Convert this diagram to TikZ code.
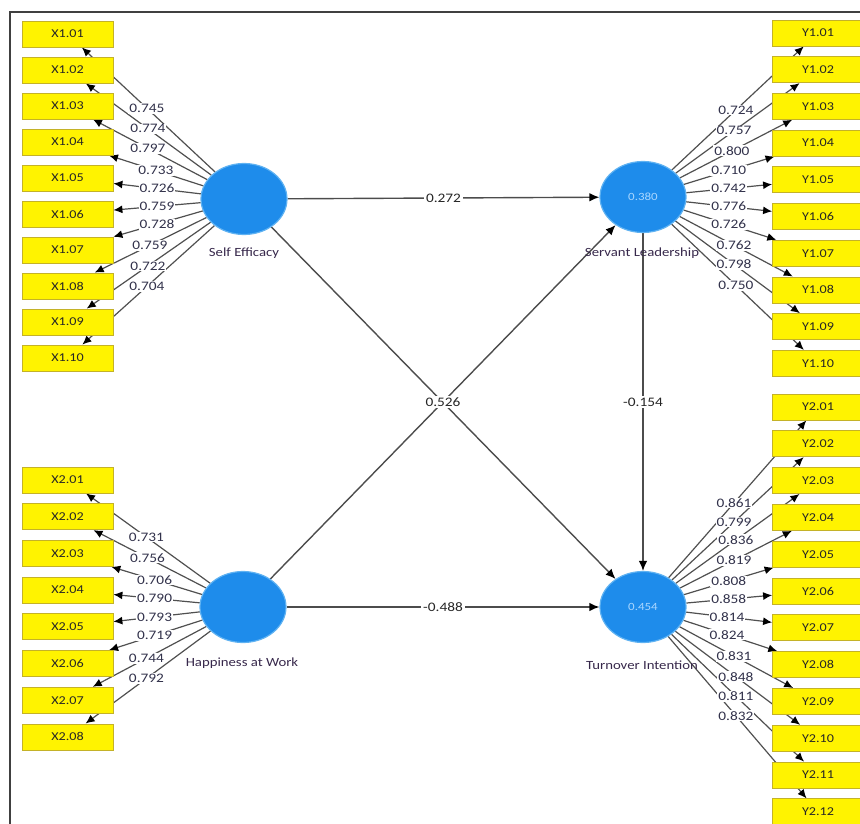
\documentclass[tikz,border=0pt]{standalone}
\usepackage{fontspec}
\setmainfont[FakeStretch=1.18]{Carlito}
\usetikzlibrary{arrows.meta,shapes.geometric,backgrounds}
\definecolor{boxfill}{RGB}{255,243,0}
\definecolor{boxline}{RGB}{196,178,40}
\definecolor{latfill}{RGB}{30,140,235}
\definecolor{latline}{RGB}{95,178,242}
\definecolor{lattxt}{RGB}{170,215,255}
\definecolor{lntxt}{RGB}{50,50,75}
\definecolor{nametxt}{RGB}{55,40,75}
\definecolor{edgecol}{RGB}{80,80,80}
\begin{document}
\begin{tikzpicture}[x=1pt,y=-1pt,
  ind/.style={rectangle,fill=boxfill,draw=boxline,line width=0.8pt,minimum width=91pt,minimum height=26pt,inner sep=0pt,font=\fontsize{12}{14}\selectfont,text=black!85},
  lat/.style={ellipse,fill=latfill,draw=latline,line width=1.2pt,minimum width=86pt,minimum height=71pt,inner sep=0pt,font=\fontsize{11}{13}\selectfont,text=lattxt},
  latname/.style={font=\fontsize{12.5}{14}\selectfont,text=nametxt,inner sep=0pt},
  ldg/.style={draw=edgecol,line width=1.2pt,-{Latex[length=9pt,width=8pt,color=black]}},
  struct/.style={draw=black!70,line width=1.4pt,-{Latex[length=10pt,width=8.5pt,color=black]}},
  lbl/.style={fill=white,inner sep=1pt,font=\fontsize{13}{15}\selectfont,text=lntxt},
  slbl/.style={fill=white,inner sep=2pt,font=\fontsize{13}{15}\selectfont,text=black!85}]
\useasboundingbox (0,0) rectangle (860,824);
\clip (0,0) rectangle (860,824);
\draw[line width=1.5pt,black!75] (10,900) -- (10,12) -- (900,12);

% latent variables
\node[lat] (SE) at (244,199) {};
\node[lat] (SL) at (643,197) {0.380};
\node[lat] (HW) at (243,607) {};
\node[lat] (TI) at (643,607) {0.454};
\node[latname] (SEn) at (244,253) {Self Efficacy};
\node[latname] (SLn) at (642,253) {Servant Leadership};
\node[latname] (HWn) at (242,663) {Happiness at Work};
\node[latname] (TIn) at (642,665) {Turnover Intention};

% indicators
\foreach \i in {1,...,10}
  \node[ind] (x1-\i) at (67.5,{34+(\i-1)*36}) {X1.\ifnum\i<10 0\fi\i};
\foreach \i in {1,...,10}
  \node[ind] (y1-\i) at (818,{33+(\i-1)*36.7}) {Y1.\ifnum\i<10 0\fi\i};
\foreach \i in {1,...,8}
  \node[ind] (x2-\i) at (67.5,{480+(\i-1)*36.7}) {X2.0\i};
\foreach \i in {1,...,12}
  \node[ind] (y2-\i) at (818,{407+(\i-1)*36.8}) {Y2.\ifnum\i<10 0\fi\i};

\begin{scope}[on background layer]
  \foreach \i in {1,...,10} \draw[ldg] (SE) -- (x1-\i);
  \foreach \i in {1,...,10} \draw[ldg] (SL) -- (y1-\i);
  \foreach \i in {1,...,8} \draw[ldg] (HW) -- (x2-\i);
  \foreach \i in {1,...,12} \draw[ldg] (TI) -- (y2-\i);
  \draw[struct] (SE) -- (SL);
  \draw[struct] (SE) -- (TI);
  \draw[struct] (HW) -- (SL);
  \draw[struct] (HW) -- (TI);
  \draw[struct] (SL) -- (TI);
\end{scope}

% loadings
\foreach \i/\l/\p in {1/0.745/0.55,2/0.774/0.544,3/0.797/0.544,4/0.733/0.499,5/0.726/0.493,6/0.759/0.493,7/0.728/0.493,8/0.759/0.533,9/0.722/0.544,10/0.704/0.55}
  \path (SE.center) -- (x1-\i.center) node[lbl,pos=\p] {\l};
\foreach \i/\l/\p in {1/0.724/0.531,2/0.757/0.52,3/0.800/0.508,4/0.710/0.49,5/0.742/0.49,6/0.776/0.49,7/0.726/0.49,8/0.762/0.52,9/0.798/0.52,10/0.750/0.531}
  \path (SL.center) -- (y1-\i.center) node[lbl,pos=\p] {\l};
\foreach \i/\l/\p in {1/0.731/0.55,2/0.756/0.544,3/0.706/0.504,4/0.790/0.504,5/0.793/0.504,6/0.719/0.504,7/0.744/0.55,8/0.792/0.55}
  \path (HW.center) -- (x2-\i.center) node[lbl,pos=\p] {\l};
\foreach \i/\l/\p in {1/0.861/0.52,2/0.799/0.52,3/0.836/0.531,4/0.819/0.52,5/0.808/0.49,6/0.858/0.49,7/0.814/0.48,8/0.824/0.48,9/0.831/0.52,10/0.848/0.531,11/0.811/0.531,12/0.832/0.531}
  \path (TI.center) -- (y2-\i.center) node[lbl,pos=\p] {\l};

% path coefficients
\path (SE) -- (SL) node[slbl,midway] {0.272};
\path (HW.center) -- (SL.center) node[slbl,midway] {0.526};
\path (HW) -- (TI) node[slbl,midway] {-0.488};
\path (SL) -- (TI) node[slbl,midway] {-0.154};
\end{tikzpicture}
\end{document}
